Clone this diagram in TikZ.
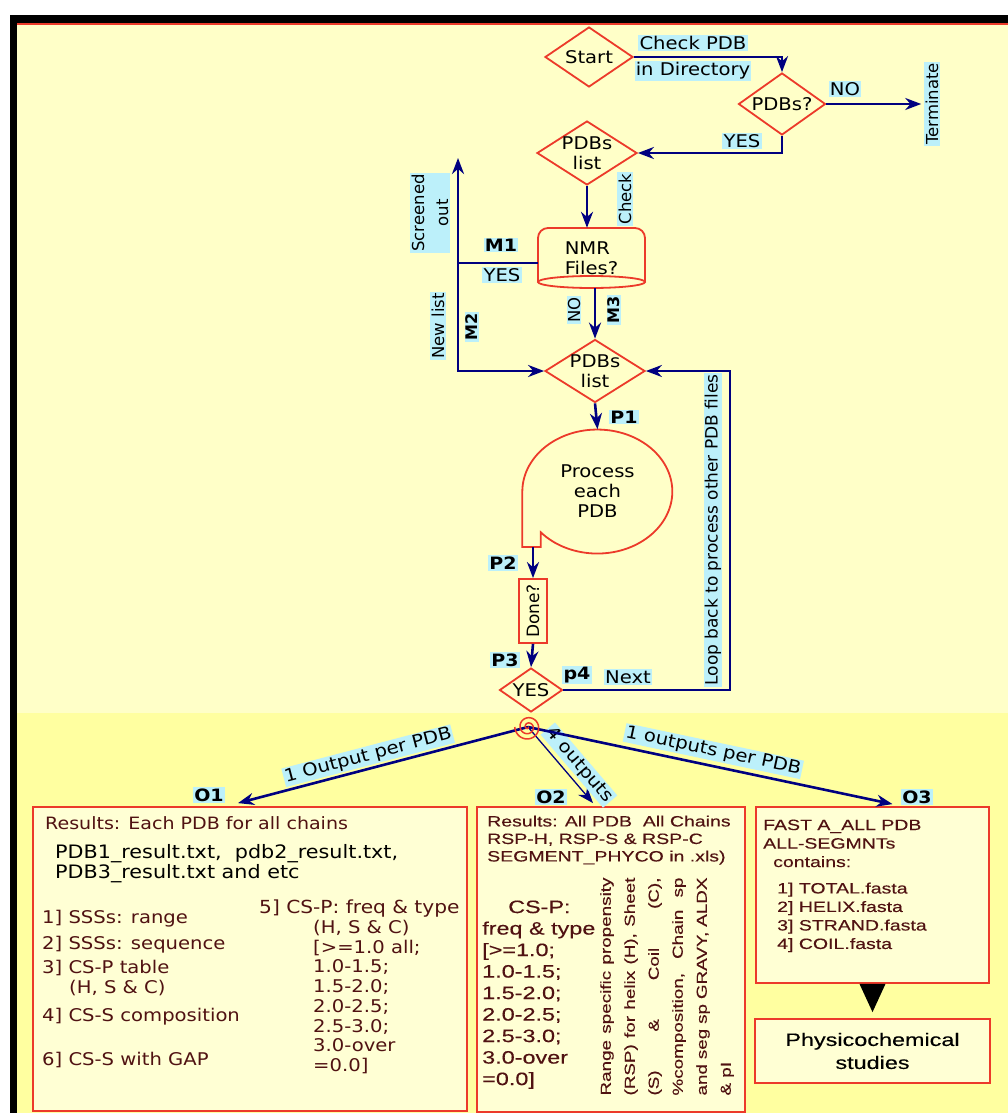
\documentclass[tikz,border=0pt]{standalone}
\usepackage{fontspec}
\setmainfont[FakeStretch=1.12]{DejaVu Sans}
\newfontfamily\upright{DejaVu Sans}
\newfontfamily\arialwide[FakeStretch=1.3,FakeBold=0.25]{Liberation Sans}
\usetikzlibrary{shapes.geometric,arrows.meta,calc}
\definecolor{Navy}{RGB}{0,0,128}
\definecolor{Edge}{RGB}{236,58,42}
\definecolor{Sky}{RGB}{188,240,250}
\definecolor{Cream}{RGB}{255,255,200}
\definecolor{Butter}{RGB}{255,255,160}
\definecolor{Paper}{RGB}{255,255,212}
\definecolor{Maroon}{RGB}{80,18,18}
\tikzstyle{Line}=[-{Stealth[length=16pt,width=12pt]}, draw=Navy, line width=2.6pt]
\tikzstyle{Wire}=[draw=Navy, line width=2.6pt]
\tikzstyle{Outline}=[draw=Edge, line width=1.8pt]
\tikzstyle{Decision}=[diamond, Outline, inner sep=0pt]
\tikzstyle{Tag}=[fill=Sky, inner sep=1.2pt]
\tikzstyle{Key}=[Tag, font=\bfseries\fontsize{17}{20}\selectfont]
\tikzstyle{Side}=[Tag, rotate=90, font=\upright\fontsize{16.5}{24}\selectfont]
\tikzstyle{SideKey}=[Tag, rotate=90, font=\upright\bfseries\fontsize{16}{20}\selectfont]
\tikzstyle{Card}=[rectangle, Outline, fill=Paper, inner sep=0pt]
\tikzstyle{Note}=[anchor=north west, align=left, inner sep=0pt, text=Maroon]

\begin{document}
\begin{tikzpicture}[x=1pt, y=-1pt, font=\fontsize{17.5}{20}\selectfont]

    \useasboundingbox (0,0) rectangle (1008,1113);
    \fill[white] (0,0) rectangle (1008,1113);
    \fill[black] (10,15) rectangle (1008,1113);
    \fill[Cream] (17,25) rectangle (1008,713);
    \fill[Butter] (17,713) rectangle (1008,1113);
    \fill[Edge] (17,23) rectangle (1008,25.5);

    \node[Decision, minimum width=88pt, minimum height=60pt, label={center:Start}] (start) at (589,57) {};
    \node[Decision, minimum width=87pt, minimum height=62pt, label={center:PDBs?}] (pdbq) at (782,104) {};
    \node[Side] (term) at (932,104) {Terminate};
    \node[Decision, minimum width=100pt, minimum height=64pt, label={[align=center]center:PDBs\\list}] (list1) at (587,153) {};

    \node[align=left, minimum width=107pt, minimum height=60pt, inner sep=0pt] (nmr) at (591.5,258) {NMR\\Files?};
    \draw[Outline, rounded corners=10pt] (538,282) -- (538,228) -- (645,228) -- (645,282);
    \draw[Outline] (591.5,282) ellipse [x radius=53.5pt, y radius=6pt];

    \node[Decision, minimum width=100pt, minimum height=63pt, label={[align=center]center:PDBs\\list}] (list2) at (595,371) {};
    \node[ellipse, minimum width=150pt, minimum height=124pt, align=center] (proc) at (597.5,491.5) {Process\\each\\PDB};
    \draw[Outline] (proc.west) -- ++(0,55.5) -- ++(18.5,0) -- ++(0,-14.7)
        arc[start angle=221.1, end angle=540, x radius=75pt, y radius=62pt];
    \coordinate (tail) at (533,547);
    \node[Outline, minimum width=28pt, minimum height=64pt, inner sep=0pt] (done) at (533,611) {\rotatebox{90}{\upright\fontsize{17}{20}\selectfont Done?}};
    \node[Decision, minimum width=63pt, minimum height=44pt, label={center:YES}] (yes) at (531,690) {};

    \coordinate (fork) at (458,263);
    \coordinate (screen) at (458,158);
    \coordinate (loop) at (730,690);
    \coordinate (hub) at (528,727);

    \draw[Line] (start.east) -| (pdbq.north);
    \draw[Line, shorten >=3pt] (pdbq.east) -- (term.north);
    \draw[Line] (pdbq.south) |- (list1.east);
    \draw[Line] (list1.south) -- (list1.south |- nmr.north);
    \draw[Wire] (nmr.west |- fork) -- (fork);
    \draw[Line] (fork) -- (screen);
    \draw[Line] (fork) |- (list2.west);
    \draw[Line] (list2.north |- nmr.south) -- (list2.north);
    \draw[Line] (list2.south) -- (proc.north);
    \draw[Line] (tail) -- (done.north);
    \draw[Line] (done.south) -- (yes.north);
    \draw[Line, line width=2pt] (yes.east) -- (loop) |- (list2.east);

    \node[Tag] (chk1) at (693,43) {Check PDB};
    \node[Tag] (chk2) at (693,71) {in Directory};
    \node[Tag] (no1) at (845,89) {NO};
    \node[Tag] (yes1) at (742,141) {YES};
    \node[Side] (chk3) at (625,199) {Check};
    \node[Key] (m1) at (501,245) {M1};
    \node[Tag] (yes2) at (502,275) {YES};
    \node[Side, align=center] (scr) at (430,213) {Screened\\out};
    \node[Side] (new) at (438,326) {New list};
    \node[SideKey] (m2) at (472,327) {M2};
    \node[Side] (no2) at (574,310) {NO};
    \node[SideKey] (m3) at (614,310) {M3};
    \node[Key] (p1) at (624,417) {P1};
    \node[Key] (p2) at (503,563) {P2};
    \node[Key] (p3) at (505,660) {P3};
    \node[Key] (p4) at (577,675) {p4};
    \node[Tag] (next) at (628,677) {Next};
    \node[Side, font=\upright\fontsize{17}{20}\selectfont] (back) at (713,530) {Loop back to process other PDB files};

    \node[Card, minimum width=434pt, minimum height=304pt] (o1box) at (250,959) {};
    \node[Card, minimum width=268pt, minimum height=305pt] (o2box) at (611,959.5) {};
    \node[Card, minimum width=233pt, minimum height=176pt] (o3box) at (872.5,895) {};
    \node[Card, minimum width=235pt, minimum height=64pt, align=center, font=\arialwide\fontsize{18}{23}\selectfont] (phys) at (872.5,1051) {Physicochemical\\studies};
    \fill[black] ($(o3box.south)+(-13,0)$) -- ($(o3box.south)+(13,0)$) -- ($(phys.north)+(0,-6)$) -- cycle;

    \draw[Line] (hub) -- ($(o1box.north)+(-12,-3)$) node[Tag, pos=0.54, sloped, above=2pt] {1 Output per PDB};
    \draw[Line, line width=1.3pt] (hub) -- ($(o2box.north)+(-18,-3)$) node[Tag, pos=0.62, sloped, above=4pt] {4 outputs};
    \draw[Line] (hub) -- ($(o3box.north)+(20,-2)$) node[Tag, pos=0.5, sloped, above=4pt] {1 outputs per PDB};
    \draw[Outline, line width=1.5pt, shift={(hub)}] plot[domain=0:900, samples=120] ({\x}:{\x/68});

    \node[Key] (o1) at (209,795) {O1};
    \node[Key] (o2) at (551,797) {O2};
    \node[Key] (o3) at (917,797) {O3};

    \node[Note, font=\fontsize{17}{20}\selectfont] (head1) at (45,816.2) {Results: Each PDB for all chains};
    \node[Note, text=black, font=\fontsize{18.5}{20}\selectfont] (files) at (55,844.6) {PDB1\_result.txt,\ \ pdb2\_result.txt,\\PDB3\_result.txt and etc};
    \node[Note, font=\fontsize{17.5}{20}\selectfont] (items1) at (42,910) {1] SSSs: range\\[6pt]2] SSSs: sequence\\[4pt]3] CS-P table\\\hspace*{27pt}(H, S \& C)\\[8pt]4] CS-S composition\\[24pt]6] CS-S with GAP};
    \node[Note, font=\fontsize{18}{19.75}\selectfont] (cs5) at (259,899.8) {5] CS-P: freq \& type};
    \node[Note, font=\fontsize{17.5}{19.75}\selectfont] (cs5list) at (313,920) {(H, S \& C)\\{[}>=1.0 all;\\1.0-1.5;\\1.5-2.0;\\2.0-2.5;\\2.5-3.0;\\3.0-over\\=0.0]};

    \node[Note, font=\arialwide\fontsize{15}{17.5}\selectfont] (head2) at (487,815.4) {Results: All PDB\ \ All Chains\\RSP-H, RSP-S \& RSP-C\\SEGMENT\_PHYCO in .xls)};
    \node[Note, font=\arialwide\fontsize{18}{21.5}\selectfont] (cs2) at (482,900.3) {\hspace*{26pt}CS-P:\\freq \& type\\{[}>=1.0;\\1.0-1.5;\\1.5-2.0;\\2.0-2.5;\\2.5-3.0;\\3.0-over\\=0.0]};
    \node[rotate=90, align=left, inner sep=0pt, text=Maroon, font=\arialwide\fontsize{14.5}{24}\selectfont] (rsp) at (667,986.5)
        {\makebox[218pt][s]{Range specific propensity}\\\makebox[218pt][s]{(RSP) for helix (H), Sheet}\\\makebox[218pt][s]{(S) \& Coil (C),}\\\makebox[218pt][s]{\%composition, Chain sp}\\\makebox[218pt][s]{and seg sp GRAVY, ALDX}\\\& pI};

    \node[Note, font=\arialwide\fontsize{15}{18.5}\selectfont] (head3) at (763,819.4) {FAST A\_ALL PDB\\ALL-SEGMNTs\\\hspace*{10pt}contains:};
    \node[Note, font=\arialwide\fontsize{15}{18.5}\selectfont] (fasta) at (777,882.4) {1] TOTAL.fasta\\2] HELIX.fasta\\3] STRAND.fasta\\4] COIL.fasta};

\end{tikzpicture}
\end{document}
